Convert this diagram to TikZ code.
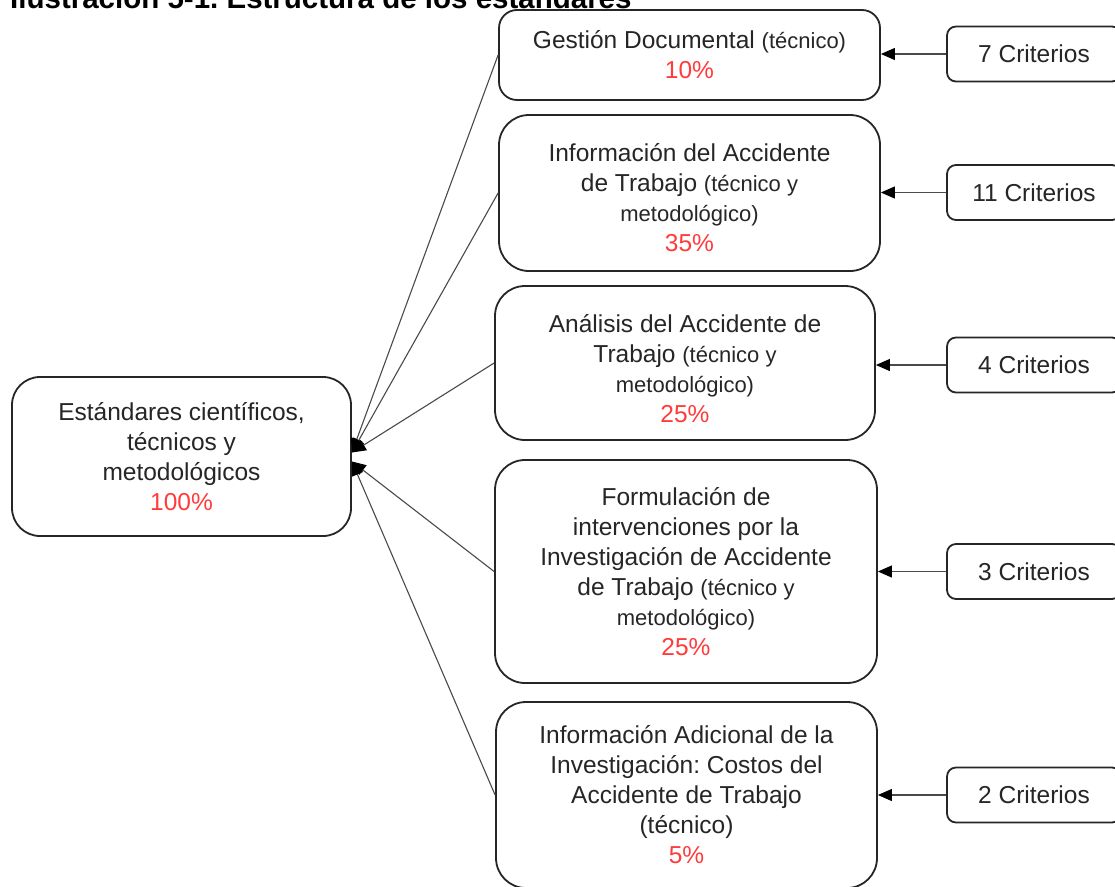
\documentclass[tikz,border=0pt]{standalone}
\usepackage{fontspec}
\setmainfont{Liberation Sans}
\usetikzlibrary{arrows.meta}
\definecolor{ink}{HTML}{262626}
\definecolor{linegray}{HTML}{4A4A4A}
\definecolor{pct}{HTML}{FF3B3B}
\newcommand{\mainsz}{\fontsize{24.5}{30}\selectfont}
\newcommand{\smsz}{\fontsize{22}{30}\selectfont}
\newcommand{\titsz}{\fontsize{29.5}{34}\selectfont\bfseries}
\newcommand{\pc}[1]{\textcolor{pct}{#1}}
\frenchspacing
\begin{document}
\begin{tikzpicture}[x=1pt,y=-1pt,
  box/.style={draw=ink, line width=1.8pt, rounded corners=#1, align=center,
    text=ink, font=\mainsz, inner sep=0pt},
  box/.default=28pt,
  crit/.style={draw=ink, line width=1.8pt, rounded corners=9pt, align=center,
    text=ink, font=\mainsz, inner sep=0pt, minimum width=174pt, minimum height=55pt},
  conn/.style={draw=linegray, line width=1.1pt, -{Triangle[length=14pt,width=12pt,color=black]}}
]
\useasboundingbox (0,0) rectangle (1115,886);
\fill[white] (0,0) rectangle (1115,886);

\node[anchor=base west, font=\titsz, text=black, inner sep=0pt] (title) at (10,9)
  {Ilustración 5-1. Estructura de los estándares};

\node[box=28pt, minimum width=339pt, minimum height=159pt] (root) at (181.5,456.5)
  {Estándares científicos,\\ técnicos y\\ metodológicos\\ \pc{100\%}};

\node[box=18pt, minimum width=381pt, minimum height=90pt] (c1) at (689.5,55)
  {Gestión Documental {\smsz (técnico)}\\ \pc{10\%}};
\node[box=30pt, minimum width=381pt, minimum height=156pt] (c2) at (689.5,193)
  {\rule{0pt}{28pt}Información del Accidente\\ de Trabajo {\smsz (técnico y}\\ {\smsz metodológico)}\\ \pc{35\%}};
\node[box=30pt, minimum width=380pt, minimum height=154pt] (c3) at (685,363)
  {\rule{0pt}{30pt}Análisis del Accidente de\\ Trabajo {\smsz (técnico y}\\ {\smsz metodológico)}\\ \pc{25\%}};
\node[box=30pt, minimum width=382pt, minimum height=223pt] (c4) at (686,571.5)
  {Formulación de\\ intervenciones por la\\ Investigación de Accidente\\ de Trabajo {\smsz (técnico y}\\ {\smsz metodológico)}\\ \pc{25\%}};
\node[box=30pt, minimum width=381pt, minimum height=186pt] (c5) at (686.5,795)
  {Información Adicional de la\\ Investigación: Costos del\\ Accidente de Trabajo\\ (técnico)\\ \pc{5\%}};

\node[crit] (k1) at (1034,54) {7 Criterios};
\node[crit] (k2) at (1034,192.5) {11 Criterios};
\node[crit] (k3) at (1034,365) {4 Criterios};
\node[crit] (k4) at (1034,571.5) {3 Criterios};
\node[crit] (k5) at (1034,795) {2 Criterios};

\draw[conn] (k1.west) -- (k1.west -| c1.east);
\draw[conn] (k2.west) -- (k2.west -| c2.east);
\draw[conn] (k3.west) -- (k3.west -| c3.east);
\draw[conn] (k4.west) -- (k4.west -| c4.east);
\draw[conn] (k5.west) -- (k5.west -| c5.east);

\draw[conn] (c1.west) -- ([yshift=4pt]root.east);
\draw[conn] (c2.west) -- ([yshift=4pt]root.east);
\draw[conn] (c3.west) -- ([yshift=4pt]root.east);
\draw[conn] (c4.west) -- ([yshift=-5pt]root.east);
\draw[conn] (c5.west) -- ([yshift=-5pt]root.east);
\end{tikzpicture}
\end{document}
